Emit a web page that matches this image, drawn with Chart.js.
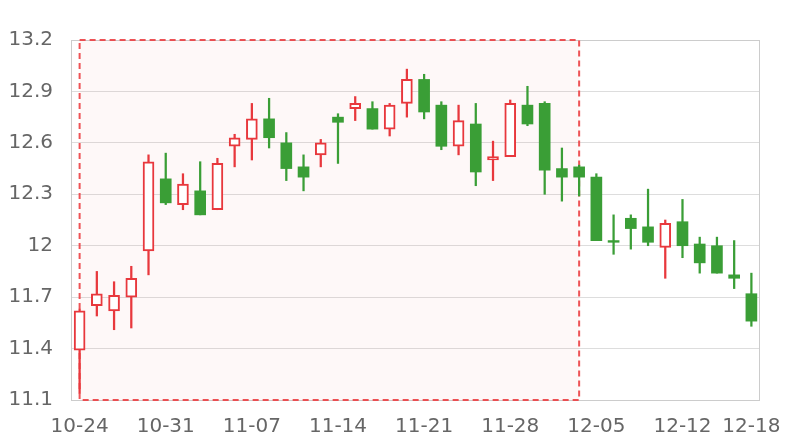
<!DOCTYPE html>
<html>
<head>
<meta charset="utf-8">
<script src="https://cdn.jsdelivr.net/npm/chart.js@4/dist/chart.umd.min.js"></script>
<style>
  html, body { margin: 0; padding: 0; background: #fff; }
  #wrap { width: 800px; height: 440px; }
</style>
</head>
<body>
<div id="wrap"><canvas id="kline"></canvas></div>
<script>
// trading days (2023), shown as MM-DD
var dates = ['10-24','10-25','10-26','10-27','10-30','10-31','11-01','11-02','11-03',
  '11-06','11-07','11-08','11-09','11-10','11-13','11-14','11-15','11-16','11-17',
  '11-20','11-21','11-22','11-23','11-24','11-27','11-28','11-29','11-30','12-01',
  '12-04','12-05','12-06','12-07','12-08','12-11','12-12','12-13','12-14','12-15','12-18'];

var openP  = [11.39,11.65,11.62,11.70,11.97,12.39,12.24,12.32,12.21,12.58,
              12.62,12.74,12.60,12.46,12.53,12.75,12.80,12.80,12.68,12.83,
              12.97,12.82,12.58,12.71,12.50,12.52,12.82,12.83,12.45,12.46,
              12.40,12.03,12.16,12.11,11.99,12.14,12.01,12.00,11.83,11.72];
var highP  = [11.63,11.85,11.79,11.88,12.53,12.54,12.42,12.49,12.51,12.65,
              12.83,12.86,12.66,12.53,12.62,12.77,12.87,12.84,12.83,13.03,
              13.00,12.84,12.82,12.83,12.61,12.85,12.93,12.84,12.57,12.47,
              12.42,12.18,12.18,12.33,12.15,12.27,12.05,12.05,12.03,11.84];
var lowP   = [11.14,11.59,11.51,11.52,11.83,12.24,12.21,12.18,12.21,12.46,
              12.50,12.57,12.38,12.32,12.46,12.48,12.73,12.68,12.64,12.75,
              12.74,12.56,12.53,12.35,12.38,12.52,12.70,12.30,12.26,12.29,
              12.03,11.95,11.98,12.00,11.81,11.93,11.84,11.84,11.75,11.53];
var closeP = [11.62,11.72,11.71,11.81,12.49,12.25,12.36,12.18,12.48,12.63,
              12.74,12.63,12.45,12.40,12.60,12.72,12.83,12.68,12.82,12.97,
              12.78,12.58,12.73,12.43,12.52,12.83,12.71,12.44,12.40,12.40,
              12.03,12.02,12.10,12.02,12.13,12.00,11.90,11.84,11.81,11.56];

var yTicks = [11.1, 11.4, 11.7, 12, 12.3, 12.6, 12.9, 13.2];
var xTickLabels = ['10-24','10-31','11-07','11-14','11-21','11-28','12-05','12-12','12-18'];

// highlighted period
var markFrom = '10-24';
var markTo = '12-04';

var upColor = '#e8383d';
var downColor = '#3a9e36';
var fontFamily = '"DejaVu Sans", sans-serif';

var isUp = dates.map(function(d, i) { return closeP[i] >= openP[i]; });
var bodies = dates.map(function(d, i) { return [openP[i], closeP[i]]; });
var wicks = dates.map(function(d, i) { return [lowP[i], highP[i]]; });

var markArea = {
  id: 'markArea',
  beforeDatasetsDraw: function(chart) {
    var ctx = chart.ctx, a = chart.chartArea;
    var x = chart.scales.x, y = chart.scales.y;
    ctx.save();
    ctx.strokeStyle = '#cccccc';
    ctx.lineWidth = 1;
    ctx.strokeRect(a.left + 0.5, a.top + 0.5, a.right - a.left - 1, a.bottom - a.top);

    var x0 = x.getPixelForValue(dates.indexOf(markFrom));
    var x1 = x.getPixelForValue(dates.indexOf(markTo));
    var y0 = y.getPixelForValue(y.max);
    var y1 = y.getPixelForValue(y.min);
    ctx.fillStyle = 'rgba(240, 70, 70, 0.04)';
    ctx.fillRect(x0, y0, x1 - x0, y1 - y0);
    ctx.setLineDash([6, 4]);
    ctx.lineWidth = 2;
    ctx.strokeStyle = 'rgba(236, 64, 68, 0.9)';
    ctx.strokeRect(x0, y0, x1 - x0, y1 - y0);
    ctx.restore();
  }
};

var ctx = document.getElementById('kline');
var kline = new Chart(ctx, {
  type: 'bar',
  data: {
    labels: dates,
    datasets: [
      {
        label: 'body',
        data: bodies,
        order: 0,
        grouped: false,
        barThickness: 11,
        borderSkipped: false,
        backgroundColor: isUp.map(function(u) { return u ? '#ffffff' : downColor; }),
        borderColor: isUp.map(function(u) { return u ? upColor : downColor; }),
        borderWidth: isUp.map(function(u) { return u ? 2 : 0; })
      },
      {
        label: 'wick',
        data: wicks,
        order: 1,
        grouped: false,
        barThickness: 1.6,
        borderWidth: 0,
        backgroundColor: isUp.map(function(u) { return u ? upColor : downColor; })
      }
    ]
  },
  options: {
    responsive: true,
    maintainAspectRatio: false,
    animation: false,
    layout: { padding: { left: 0, right: 40, top: 40, bottom: 0 } },
    plugins: { legend: { display: false }, tooltip: { enabled: false } },
    scales: {
      x: {
        type: 'category',
        offset: true,
        // only label the days listed in xTickLabels
        afterBuildTicks: function(axis) {
          axis.ticks = axis.ticks.filter(function(t) {
            return xTickLabels.indexOf(dates[t.value]) >= 0;
          });
        },
        afterFit: function(axis) { axis.height = 40; },
        grid: { display: false },
        border: { display: false },
        ticks: {
          autoSkip: false,
          maxRotation: 0,
          padding: 7,
          color: '#666666',
          font: { family: fontFamily, size: 20 }
        }
      },
      y: {
        min: 11.1,
        max: 13.2,
        afterBuildTicks: function(axis) {
          axis.ticks = yTicks.map(function(v) { return { value: v }; });
        },
        afterFit: function(axis) { axis.width = 71; },
        grid: { color: '#dddddd', drawTicks: false },
        border: { color: '#cccccc' },
        ticks: {
          padding: 18,
          color: '#666666',
          font: { family: fontFamily, size: 20 },
          callback: function(v) { return String(+v.toFixed(1)); }
        }
      }
    }
  },
  plugins: [markArea]
});
</script>
</body>
</html>
